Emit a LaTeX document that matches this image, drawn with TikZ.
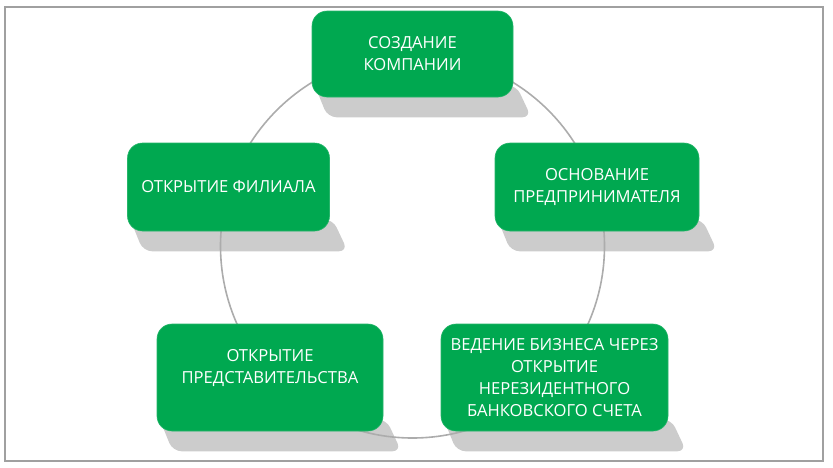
\documentclass[tikz,border=0pt]{standalone}
\usepackage{fontspec}
\setmainfont{Open Sans}
\pgfdeclarelayer{shadowl}
\pgfdeclarelayer{circlel}
\pgfsetlayers{shadowl,circlel,main}
\definecolor{boxgreen}{RGB}{0,168,80}
\definecolor{shadowc}{RGB}{204,204,204}
\definecolor{ringc}{RGB}{172,172,172}
\definecolor{framec}{RGB}{160,160,160}
\tikzset{
  stagebox/.style={fill=boxgreen, draw=boxgreen!85!white, line width=0.6pt, rounded corners=15pt,
    text=white, align=center, inner sep=0pt,
    font=\fontsize{16.6}{22}\selectfont},
}
\newcommand{\boxshadow}[1]{%
  \begin{pgfonlayer}{shadowl}
  \fill[shadowc, rounded corners=9pt]
    ([xshift=3pt,yshift=12pt]#1.south west) -- ([xshift=3pt,yshift=12pt]#1.south east)
    -- ([xshift=18pt,yshift=-20pt]#1.south east) -- ([xshift=16pt,yshift=-20pt]#1.south west) -- cycle;
  \end{pgfonlayer}}
\begin{document}
\begin{tikzpicture}[x=1pt,y=-1pt]
\useasboundingbox (0,0) rectangle (833,467);
\draw[framec, line width=2pt] (4.5,7) rectangle (823,461);
\node[stagebox, minimum width=201pt, minimum height=86pt] (top) at (412.5,54) {СОЗДАНИЕ\\КОМПАНИИ};
\node[stagebox, minimum width=202pt, minimum height=88pt] (left) at (228.5,187) {ОТКРЫТИЕ ФИЛИАЛА};
\node[stagebox, minimum width=204pt, minimum height=88pt] (right) at (597,187) {ОСНОВАНИЕ\\ПРЕДПРИНИМАТЕЛЯ};
\node[stagebox, minimum width=226pt, minimum height=107pt] (bl) at (270,377.5) {ОТКРЫТИЕ\\ПРЕДСТАВИТЕЛЬСТВА\\~};
\node[stagebox, minimum width=227pt, minimum height=107pt] (br) at (554.5,377.5) {ВЕДЕНИЕ БИЗНЕСА ЧЕРЕЗ\\ОТКРЫТИЕ\\НЕРЕЗИДЕНТНОГО\\БАНКОВСКОГО СЧЕТА};
\boxshadow{top}
\boxshadow{left}
\boxshadow{right}
\boxshadow{bl}
\boxshadow{br}
\begin{pgfonlayer}{circlel}
\coordinate (ringc) at (412.5,246);
\draw[ringc, line width=1.6pt] (ringc) circle[radius=192pt];
\end{pgfonlayer}
\end{tikzpicture}
\end{document}
